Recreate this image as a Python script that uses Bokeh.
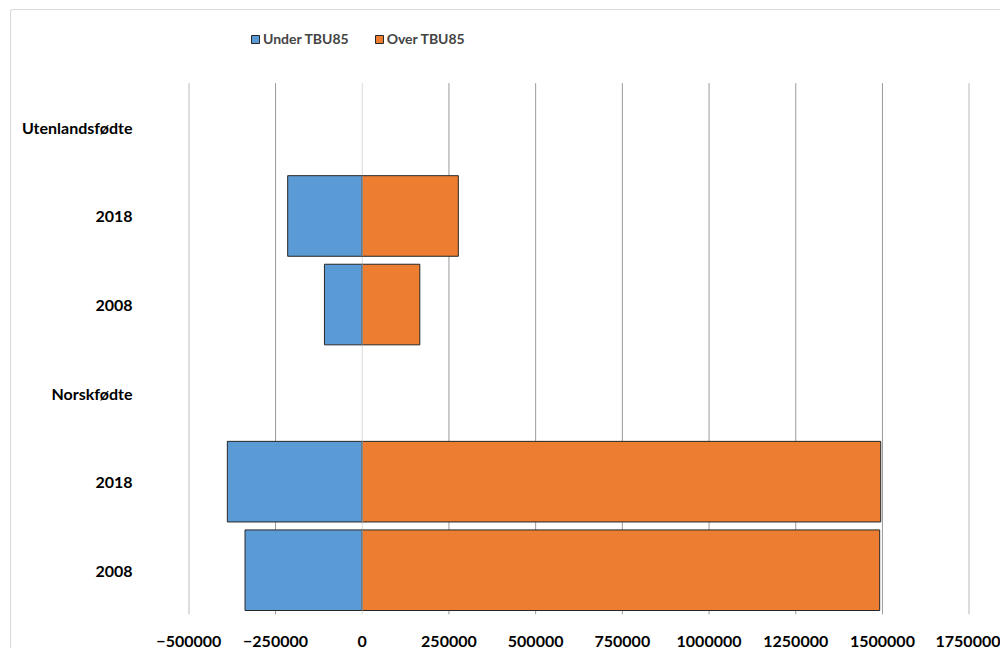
from bokeh.plotting import figure
from bokeh.models import FixedTicker, Legend, LegendItem, ColumnDataSource
from bokeh.embed import file_html
from bokeh.resources import INLINE

# ---- data ----
categories = ["Utenlandsfødte", "2018", "2008", "Norskfødte", "2018", "2008"]
under_tbu85 = [None, -215000, -109000, None, -389000, -338000]
over_tbu85 = [None, 277000, 166000, None, 1495000, 1492000]
x_ticks = [-500000, -250000, 0, 250000, 500000, 750000, 1000000, 1250000, 1500000, 1750000]

n = len(categories)
ypos = [n - 1 - i for i in range(n)]
rows = [i for i in range(n) if under_tbu85[i] is not None]
src = ColumnDataSource(dict(
    y=[ypos[i] for i in rows],
    under=[under_tbu85[i] for i in rows],
    over=[over_tbu85[i] for i in rows],
    zero=[0 for _ in rows],
))

FONT = "Lato"
pad = 1000
top_room = 73.0 / 89.0   # space above the category area for the legend
p = figure(width=990, height=639, output_backend="svg", toolbar_location=None,
           x_range=(x_ticks[0] - pad, x_ticks[-1] + pad), y_range=(-0.5, n - 0.5 + top_room),
           min_border_left=177, min_border_right=32, min_border_top=0, min_border_bottom=32,
           styles={"margin-left": "10px", "margin-top": "9px",
                   "border-top": "1px solid #d9d9d9", "border-left": "1px solid #d9d9d9",
                   "border-top-left-radius": "3px"})
p.outline_line_color = None
p.background_fill_color = "white"
p.border_fill_color = "white"
p.xgrid.grid_line_color = None
p.ygrid.grid_line_color = None

# vertical gridlines limited to the category area
grid_x = [t for t in x_ticks if t != 0]
p.segment(x0=grid_x, y0=[-0.5] * len(grid_x), x1=grid_x, y1=[n - 0.5] * len(grid_x),
          line_color="#9a9a9a", line_width=1)
p.segment(x0=[0], y0=[-0.5], x1=[0], y1=[n - 0.5], line_color="#d9d9d9", line_width=1)

r_under = p.hbar(y="y", left="zero", right="under", height=0.91, source=src,
                 fill_color="#5B9BD5", line_color="#262626", line_width=1)
r_over = p.hbar(y="y", left="zero", right="over", height=0.91, source=src,
                fill_color="#ED7D31", line_color="#262626", line_width=1)

# zero axis line drawn over the bars
p.segment(x0=[0] * len(rows), y0=[ypos[i] - 0.455 for i in rows],
          x1=[0] * len(rows), y1=[ypos[i] + 0.455 for i in rows],
          line_color="#8c8c8c", line_width=1.5)

# x axis
p.xaxis.ticker = FixedTicker(ticks=x_ticks)
p.xaxis.axis_line_color = None
p.xaxis.major_tick_line_color = None
p.xaxis.minor_tick_line_color = None
p.xaxis.major_label_text_font = FONT
p.xaxis.major_label_text_font_style = "bold"
p.xaxis.major_label_text_font_size = "16px"
p.xaxis.major_label_text_color = "black"
p.xaxis.major_label_standoff = 15
p.xaxis.formatter.use_scientific = False

# y axis
p.yaxis.ticker = FixedTicker(ticks=ypos)
p.yaxis.major_label_overrides = {ypos[i]: categories[i] for i in range(n)}
p.yaxis.axis_line_color = None
p.yaxis.major_tick_line_color = None
p.yaxis.minor_tick_line_color = None
p.yaxis.major_label_text_font = FONT
p.yaxis.major_label_text_font_style = "bold"
p.yaxis.major_label_text_font_size = "16px"
p.yaxis.major_label_text_color = "black"
p.yaxis.major_label_standoff = 50

legend = Legend(items=[LegendItem(label="Under TBU85", renderers=[r_under]),
                       LegendItem(label="Over TBU85", renderers=[r_over])],
                orientation="horizontal", location=(62, 567),
                glyph_width=10, glyph_height=10, label_standoff=3, spacing=25,
                padding=0, margin=0, border_line_color=None, background_fill_alpha=0,
                label_text_font=FONT, label_text_font_style="bold",
                label_text_font_size="14px", label_height=14)
p.add_layout(legend, "center")

open("out.html", "w").write(file_html(p, INLINE))
